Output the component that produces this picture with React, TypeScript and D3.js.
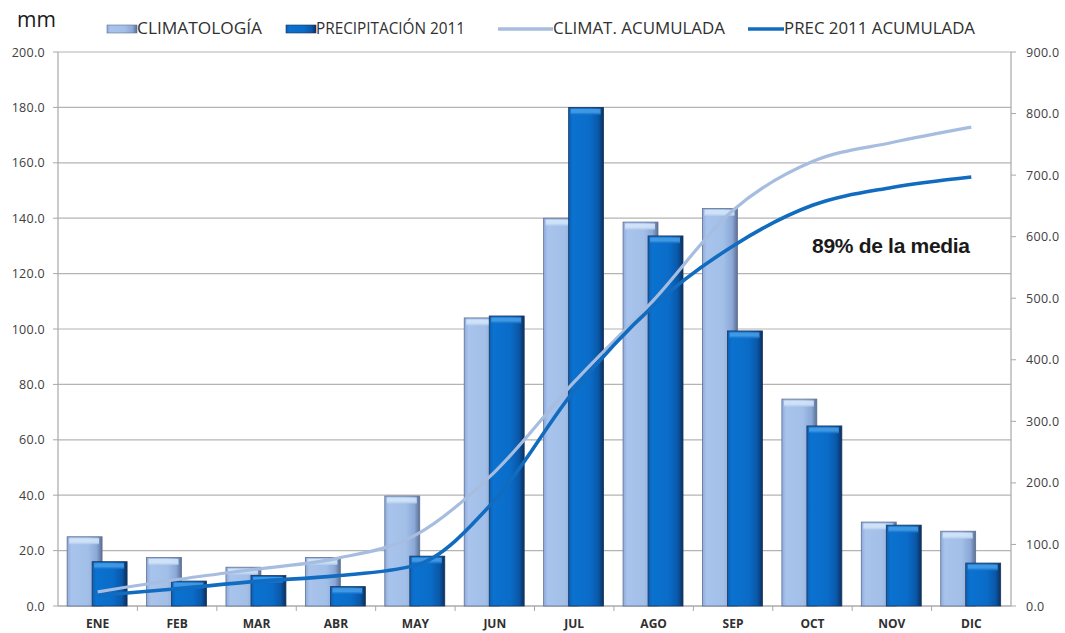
import React from "react";
import * as d3 from "d3";

// Monthly precipitation (mm): climatology vs 2011, and their running totals
const months = ["ENE", "FEB", "MAR", "ABR", "MAY", "JUN", "JUL", "AGO", "SEP", "OCT", "NOV", "DIC"];
const climatologia = [25, 17.5, 14, 17.5, 39.7, 104, 140, 138.6, 143.5, 74.7, 30.3, 27];
const precip2011 = [16, 9, 11, 7, 18, 104.7, 180, 133.6, 99.3, 65, 29.2, 15.5];
const climAcumulada = [23, 43, 60, 77, 115, 218, 364, 497, 643, 722, 753, 778];
const precAcumulada = [17, 28, 40, 49, 66, 172, 350, 488, 585, 651, 680, 697];
const leftTicks = [0, 20, 40, 60, 80, 100, 120, 140, 160, 180, 200];
const rightTicks = [0, 100, 200, 300, 400, 500, 600, 700, 800, 900];

const W = 1065;
const H = 633;
const m = { left: 58, right: 54, top: 52, bottom: 27 };
const x0 = m.left;
const x1 = W - m.right;
const y0 = H - m.bottom;
const y1 = m.top;

const fontUI = "'Open Sans', 'Liberation Sans', sans-serif";

export default function App() {
  const x = d3.scaleBand<string>().domain(months).range([x0, x1]).paddingInner(0).paddingOuter(0);
  const yL = d3.scaleLinear().domain([0, 200]).range([y0, y1]);
  const yR = d3.scaleLinear().domain([0, 900]).range([y0, y1]);
  const bw = x.bandwidth();
  const barW = bw * 0.44;
  const lightOff = bw * 0.115;
  const darkOff = bw * 0.43;

  const line = d3
    .line<number>()
    .x((_, i) => (x(months[i]) as number) + bw / 2)
    .y((v) => yR(v))
    .curve(d3.curveMonotoneX);

  const fmt = d3.format(".1f");

  const bar = (v: number, i: number, off: number, kind: "light" | "dark") => {
    const bx = (x(months[i]) as number) + off;
    const by = yL(v);
    const h = y0 - by;
    const light = kind === "light";
    return (
      <g key={kind + i}>
        <rect x={bx} y={by} width={barW} height={h} fill={`url(#grad-${kind})`} stroke={light ? "#5f7090" : "#1d3558"} strokeWidth={0.8} />
        {/* bevelled top */}
        <rect x={bx + 2} y={by + 1.5} width={barW - 5} height={Math.min(5, h - 2)} fill={light ? "#d6e8fa" : "#4aa0e8"} opacity={0.85} />
        <rect x={bx + 2} y={by + 5.5} width={barW - 5} height={Math.min(2, Math.max(0, h - 6))} fill={light ? "#bcd4f0" : "#1a78d0"} opacity={0.7} />
      </g>
    );
  };

  return (
    <div style={{ position: "absolute", left: 0, top: 0 }}>
      <svg width={W} height={H} style={{ display: "block", background: "#fff" }}>
        <defs>
          <linearGradient id="grad-light" x1="0" x2="1" y1="0" y2="0">
            <stop offset="0" stopColor="#8eaadc" />
            <stop offset="0.12" stopColor="#a8c4ec" />
            <stop offset="0.6" stopColor="#a2bfe8" />
            <stop offset="0.85" stopColor="#8ba7d6" />
            <stop offset="1" stopColor="#5a6f94" />
          </linearGradient>
          <linearGradient id="grad-dark" x1="0" x2="1" y1="0" y2="0">
            <stop offset="0" stopColor="#0a5fb4" />
            <stop offset="0.12" stopColor="#0b72d0" />
            <stop offset="0.6" stopColor="#0a6cc8" />
            <stop offset="0.85" stopColor="#0a58a8" />
            <stop offset="1" stopColor="#0a2f60" />
          </linearGradient>
        </defs>

        {/* gridlines */}
        {leftTicks.map((t) => (
          <line key={"g" + t} x1={x0} x2={x1} y1={yL(t)} y2={yL(t)} stroke="#b4b4b4" strokeWidth={1.2} />
        ))}

        {/* left axis */}
        <line x1={x0} x2={x0} y1={y1} y2={y0} stroke="#a8a8a8" strokeWidth={1.2} />
        {leftTicks.map((t) => (
          <g key={"l" + t}>
            <line x1={x0 - 5} x2={x0} y1={yL(t)} y2={yL(t)} stroke="#a8a8a8" />
            <text x={x0 - 13} y={yL(t) + 4.5} textAnchor="end" fontSize={12.5} letterSpacing={0.3} fill="#404040" fontFamily={fontUI}>
              {fmt(t)}
            </text>
          </g>
        ))}

        {/* right axis */}
        <line x1={x1} x2={x1} y1={y1} y2={y0} stroke="#a8a8a8" strokeWidth={1.2} />
        {rightTicks.map((t) => (
          <g key={"r" + t}>
            <line x1={x1} x2={x1 + 5} y1={yR(t)} y2={yR(t)} stroke="#a8a8a8" />
            <text x={x1 + 15} y={yR(t) + 4.5} textAnchor="start" fontSize={12.5} letterSpacing={0.3} fill="#404040" fontFamily={fontUI}>
              {fmt(t)}
            </text>
          </g>
        ))}

        {/* category axis */}
        <line x1={x0} x2={x1} y1={y0} y2={y0} stroke="#a8a8a8" strokeWidth={1.2} />
        {months.map((mo, i) => (
          <g key={"c" + mo}>
            {i > 0 && <line x1={x(mo) as number} x2={x(mo) as number} y1={y0} y2={y0 + 5} stroke="#a8a8a8" />}
            <text x={(x(mo) as number) + bw / 2} y={y0 + 22} textAnchor="middle" fontSize={12} fontWeight="bold" fill="#303030" fontFamily={fontUI}>
              {mo}
            </text>
          </g>
        ))}

        {/* bars */}
        {climatologia.map((v, i) => bar(v, i, lightOff, "light"))}
        {precip2011.map((v, i) => bar(v, i, darkOff, "dark"))}

        {/* accumulated lines */}
        <path d={line(climAcumulada) || ""} fill="none" stroke="#a7bde0" strokeWidth={3.2} strokeLinejoin="round" />
        <path d={line(precAcumulada) || ""} fill="none" stroke="#116cc0" strokeWidth={3.6} strokeLinejoin="round" />

        {/* annotation */}
        <text x={812} y={253} fontSize={21} fontWeight="bold" fill="#1a1a1a" fontFamily="'Liberation Sans', Arial, sans-serif" letterSpacing={-0.3}>
          89% de la media
        </text>

        {/* unit label */}
        <text x={17} y={27} fontSize={21} fill="#1a1a1a" fontFamily={fontUI}>
          mm
        </text>

        {/* legend */}
        <g fontFamily={fontUI} fontSize={16} fill="#303030">
          <rect x={107} y={25} width={30} height={8} fill="url(#grad-light)" stroke="#5f7090" strokeWidth={0.6} />
          <text x={137} y={34} textLength={125} lengthAdjust="spacingAndGlyphs">CLIMATOLOGÍA</text>
          <rect x={286} y={25} width={30} height={8} fill="url(#grad-dark)" stroke="#1d3558" strokeWidth={0.6} />
          <text x={316} y={34} textLength={149} lengthAdjust="spacingAndGlyphs">PRECIPITACIÓN 2011</text>
          <line x1={498} x2={553} y1={29} y2={29} stroke="#a7bde0" strokeWidth={3.5} />
          <text x={553} y={34} textLength={172} lengthAdjust="spacingAndGlyphs">CLIMAT. ACUMULADA</text>
          <line x1={748} x2={784} y1={29} y2={29} stroke="#116cc0" strokeWidth={3.5} />
          <text x={784} y={34} textLength={191} lengthAdjust="spacingAndGlyphs">PREC 2011 ACUMULADA</text>
        </g>
      </svg>
    </div>
  );
}
